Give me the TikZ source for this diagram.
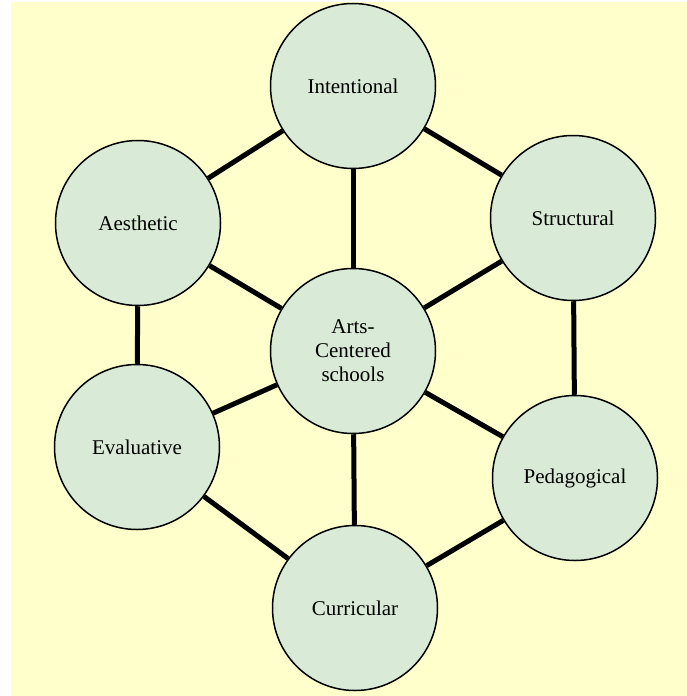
\documentclass[tikz,border=0pt]{standalone}
\usepackage{fontspec}
\setmainfont{Liberation Serif}
\definecolor{bgyellow}{HTML}{FFFFCC}
\definecolor{circfill}{HTML}{D9EBD6}
\begin{document}
\begin{tikzpicture}[x=1pt,y=-1pt,
  facet/.style={circle,draw=black,line width=1.5pt,fill=circfill,minimum size=165pt,inner sep=0pt,align=center,font=\fontsize{21}{24}\selectfont},
  link/.style={line width=5pt,line cap=butt}]
\useasboundingbox (0,0) rectangle (687,696);
\fill[bgyellow] (11,2) rectangle (687,696);
\node[facet] (int) at (353,86) {Intentional};
\node[facet] (aes) at (138,223) {Aesthetic};
\node[facet] (str) at (573,218) {Structural};
\node[facet] (ctr) at (353,351) {Arts-\\Centered\\schools};
\node[facet] (eva) at (137,447) {Evaluative};
\node[facet] (ped) at (575,478) {Pedagogical};
\node[facet] (cur) at (355,608) {Curricular};
\foreach \a/\b in {ctr/int,ctr/aes,ctr/str,ctr/eva,ctr/ped,ctr/cur,int/aes,int/str,str/ped,ped/cur,cur/eva,eva/aes}
  \draw[link] (\a) -- (\b);
\end{tikzpicture}
\end{document}
